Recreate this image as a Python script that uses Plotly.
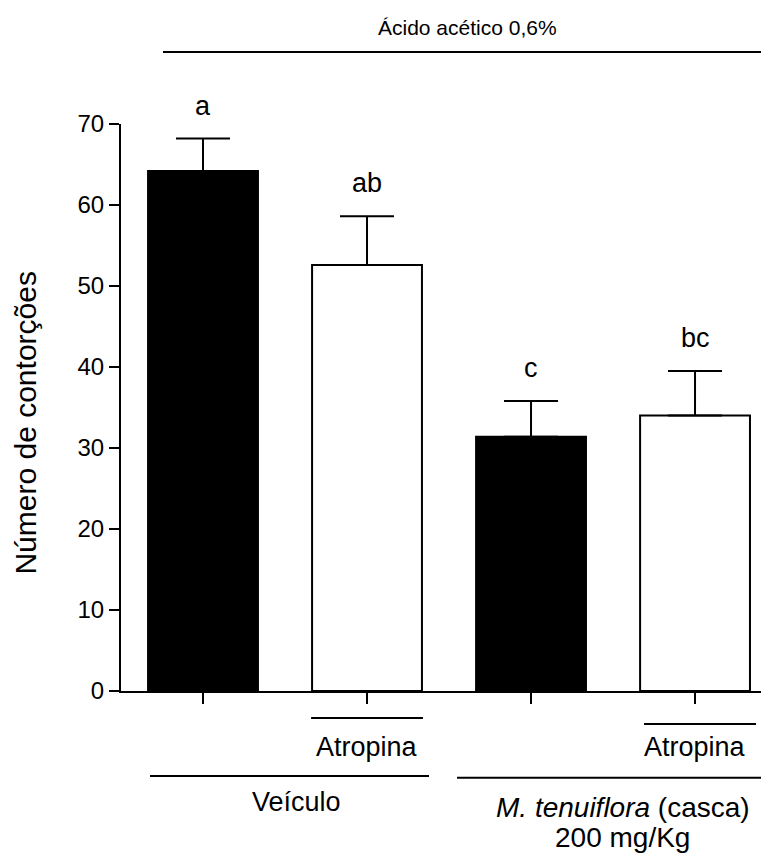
import plotly.graph_objects as go

categories = ["Veículo", "Veículo + Atropina", "M. tenuiflora", "M. tenuiflora + Atropina"]
means = [64.2, 52.6, 31.4, 34.0]
sems = [4.0, 6.0, 4.4, 5.5]
letters = ["a", "ab", "c", "bc"]
fill_colors = ["black", "white", "black", "white"]
y_ticks = [0, 10, 20, 30, 40, 50, 60, 70]

FONT = "Liberation Sans, Arial, sans-serif"

fig = go.Figure()
fig.add_trace(go.Bar(
    x=categories, y=means, width=0.67,
    marker=dict(color=fill_colors, line=dict(color="black", width=2)),
    error_y=dict(type="data", array=sems, arrayminus=[0] * len(sems), symmetric=False,
                 color="black", thickness=2, width=27),
    showlegend=False, hoverinfo="skip",
))

annotations = []
for cat, m, s, lab in zip(categories, means, sems, letters):
    annotations.append(dict(x=cat, y=m + s, xref="x", yref="y", text=lab, showarrow=False,
                            yanchor="bottom", yshift=16, font=dict(size=27, color="black", family=FONT)))

def txt(x, y, t, size=27, xref="x"):
    annotations.append(dict(x=x, y=y, xref=xref, yref="paper", text=t, showarrow=False,
                            xanchor="center", yanchor="middle", font=dict(size=size, color="black", family=FONT)))

txt(1, -0.099, "Atropina")
txt(3, -0.099, "Atropina")
txt(0.57, -0.196, "Veículo")
txt(2.56, -0.205, "<i>M. tenuiflora</i> (casca)", size=28)
txt(2.56, -0.259, "200 mg/Kg", size=28)
txt(1.61, 1.171, "Ácido acético 0,6%", size=21)
annotations.append(dict(x=-0.147, y=0.473, xref="paper", yref="paper", text="Número de contorções",
                        textangle=-90, showarrow=False, xanchor="center", yanchor="middle",
                        font=dict(size=30, color="black", family=FONT)))

shapes = []
def hline(x0, x1, y):
    shapes.append(dict(type="line", xref="x", yref="paper", x0=x0, x1=x1, y0=y, y1=y,
                       line=dict(color="black", width=2)))

hline(0.659, 1.341, -0.0476)
hline(2.689, 3.372, -0.0582)
hline(-0.323, 1.378, -0.150)
hline(1.549, 3.6, -0.153)
hline(-0.244, 3.6, 1.127)

# page body has an 8px margin; figure is shrunk so the plot sits where the reference has it
fig.update_layout(
    width=761, height=846,
    margin=dict(l=113, r=0, t=116, b=163),
    paper_bgcolor="white", plot_bgcolor="white",
    font=dict(family=FONT, color="black"),
    annotations=annotations, shapes=shapes,
)
fig.update_xaxes(range=[-0.5, 3.451], showline=True, linecolor="black", linewidth=2,
                 ticks="outside", ticklen=11, tickwidth=2, tickcolor="black",
                 showticklabels=False, showgrid=False, zeroline=False, fixedrange=True)
fig.update_yaxes(range=[0, 70], tickvals=y_ticks, showline=True, linecolor="black", linewidth=2,
                 ticks="outside", ticklen=10, tickwidth=2, tickcolor="black",
                 tickfont=dict(size=24, color="black", family=FONT),
                 showgrid=False, zeroline=False, fixedrange=True)

fig.write_html("out.html")
